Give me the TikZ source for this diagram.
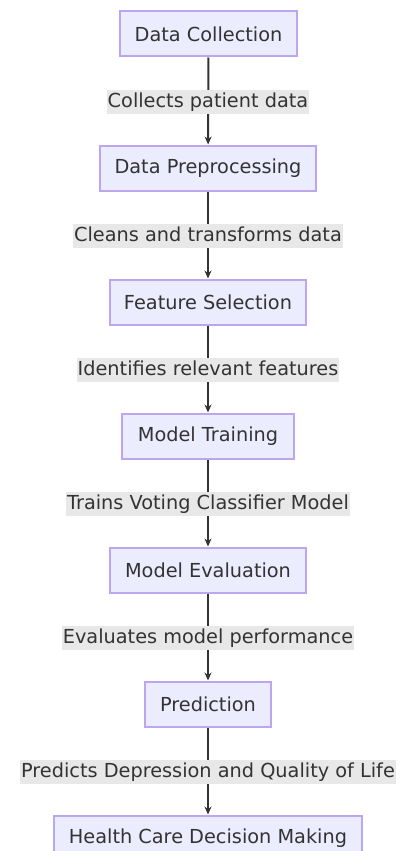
\documentclass[tikz,border=0pt]{standalone}
\usepackage{fontspec}
\setmainfont{DejaVu Sans}
\usetikzlibrary{arrows.meta}
\definecolor{nodefill}{HTML}{ECECFF}
\definecolor{nodeline}{HTML}{BBA6EF}
\definecolor{txt}{HTML}{333333}
\definecolor{lblbg}{HTML}{E8E8E8}
\begin{document}
\begin{tikzpicture}[x=1pt,y=-1pt,
  box/.style={draw=nodeline,fill=nodefill,line width=2pt,minimum height=45pt,inner sep=0pt,text=txt,font=\fontsize{19.3}{22}\selectfont},
  lbl/.style={fill=lblbg,text=txt,inner xsep=1pt,inner ysep=2pt,text height=15pt,text depth=5pt,font=\fontsize{19.3}{22}\selectfont},
  conn/.style={draw=txt,line width=2pt,-{Stealth[length=8pt,width=7pt]}}]
\useasboundingbox (0,0) rectangle (401,851);
\node[box,minimum width=177pt] (n1) at (208.5,34) {Data Collection};
\node[box,minimum width=216pt] (n2) at (208,168) {Data Preprocessing};
\node[box,minimum width=196pt] (n3) at (208,302) {Feature Selection};
\node[box,minimum width=172pt] (n4) at (208,436) {Model Training};
\node[box,minimum width=196pt] (n5) at (208,570) {Model Evaluation};
\node[box,minimum width=126pt] (n6) at (208,704) {Prediction};
\node[box,minimum width=308pt] (n7) at (208,838) {Health Care Decision Making};
\foreach \a/\b in {n1/n2,n2/n3,n3/n4,n4/n5,n5/n6,n6/n7}{
  \draw[conn] (\a) -- (\b);
}
\node[lbl] (l1) at (208,102) {Collects patient data};
\node[lbl] (l2) at (208,236) {Cleans and transforms data};
\node[lbl] (l3) at (208,370) {Identifies relevant features};
\node[lbl] (l4) at (208,504) {Trains Voting Classifier Model};
\node[lbl] (l5) at (208,638) {Evaluates model performance};
\node[lbl] (l6) at (208,772) {Predicts Depression and Quality of Life};
\end{tikzpicture}
\end{document}
